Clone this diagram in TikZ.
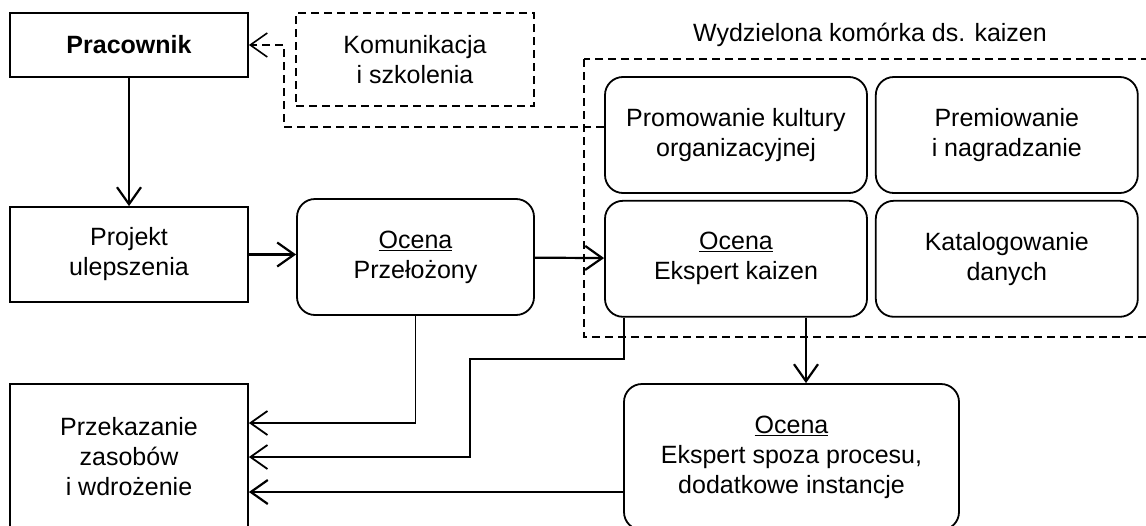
\documentclass[tikz,border=0pt]{standalone}
\usepackage{fontspec}
\setmainfont{Liberation Sans}
\usetikzlibrary{arrows.meta, positioning, calc}

\begin{document}
\begin{tikzpicture}[x=1pt, y=-1pt, node distance=7pt,
    font=\fontsize{25pt}{30pt}\selectfont,
    box/.style={draw, rectangle, line width=1.8pt, minimum width=238pt, align=center, inner sep=0pt},
    rbox/.style={box, rounded corners=18pt, minimum width=262pt, minimum height=116pt},
    dashline/.style={line width=1.6pt, dash pattern=on 8pt off 5pt},
    conn/.style={line width=2.2pt},
    arr/.style={conn, -{Straight Barb[length=17pt, width=24pt]}},
    route/.style={arr, line width=1.8pt}]
    \useasboundingbox (0,0) rectangle (1146,525);

    % left column
    \node (prac) [box, minimum height=64pt] at (129,45) {\textbf{Pracownik}};
    \node (komun) [box, dashline, minimum height=93pt] at (415,59.5) {Komunikacja\\i szkolenia};
    \node (proj) [box, minimum height=95pt] at (129,254.5) {Projekt\\ulepszenia};
    \node (przel) [rbox, minimum width=237pt] at (415.5,257) {\underline{Ocena}\\Przełożony};
    \node (przek) [box, minimum height=146pt] at (129,457) {Przekazanie\\zasobów\\i wdrożenie};

    % kaizen cell
    \draw [dashline] (584,59) rectangle (1180,337);
    \node (kaizlbl) at (870,35) {Wydzielona komórka ds. kaizen};
    \node (promo) [rbox] at (736,135) {Promowanie kultury\\organizacyjnej};
    \node (premia) [rbox, right=7pt of promo] {Premiowanie\\i nagradzanie};
    \node (ekaiz) [rbox, below=6pt of promo] {\underline{Ocena}\\Ekspert kaizen};
    \node (katal) [rbox, right=7pt of ekaiz] {Katalogowanie\\danych};

    \node (espoza) [rbox, minimum width=335pt, minimum height=146pt] at (791.5,457) {\underline{Ocena}\\Ekspert spoza procesu,\\dodatkowe instancje};

    \draw [arr] (prac) -- (proj);
    \draw [arr] (proj.east) -- (proj.east -| przel.west);
    \draw [arr] (przel) -- (ekaiz);
    \draw [arr] ([xshift=70pt]ekaiz.south) -- ([xshift=70pt]ekaiz.south |- espoza.north);
    \draw [arr, dashline] ($(promo.west)+(0,-8)$) -| ($(prac.east)+(35,0)$) -- (prac.east);
    \draw [route] (przel.south) |- ($(przek.east)+(0,-34)$);
    \draw [route] ($(ekaiz.south west)+(20,0)$) -- ++(0,41) -| ($(przek.east)+(221,0)$) -- (przek.east);
    \draw [arr] ($(espoza.west)+(0,35)$) -- ($(przek.east)+(0,35)$);
\end{tikzpicture}
\end{document}
